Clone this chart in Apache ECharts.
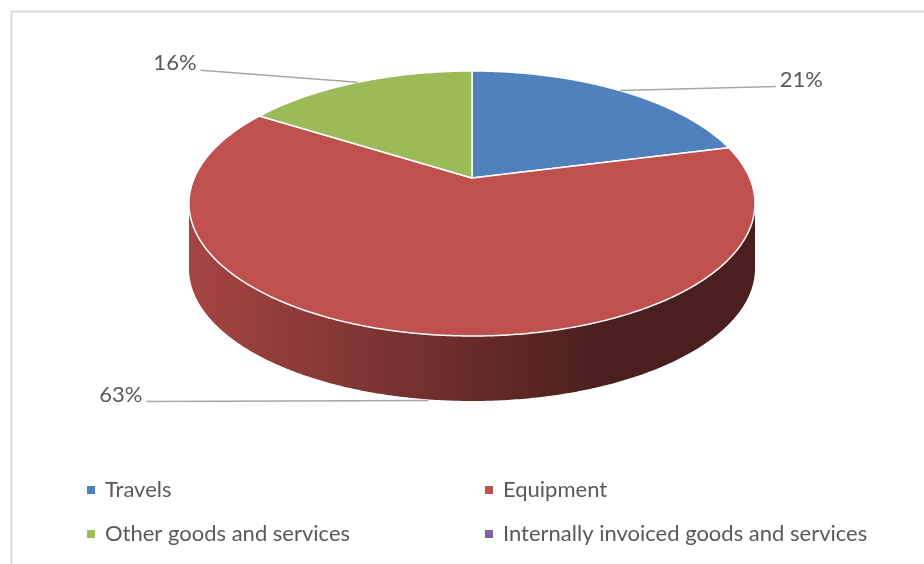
<!DOCTYPE html>
<html>
<head>
<meta charset="utf-8">
<script src="https://cdn.jsdelivr.net/npm/echarts@6/dist/echarts.min.js"></script>
<style>html,body{margin:0;padding:0;background:#fff;}#chart{width:924px;height:564px;}</style>
</head>
<body>
<div id="chart"></div>
<script>
const categories = ['Travels', 'Equipment', 'Other goods and services', 'Internally invoiced goods and services'];
const values = [21, 63, 16, 0];
const colors = ['#4F81BD', '#C0504D', '#9BBB59', '#8064A2'];

// layout (not data)
const geo = { cx: 472, cy: 178, rx: 277.7, ry: 127.6, k: 0.1924, depth: 65 };
const leaderOffsets = [[156, -4], [-282, 1], [-157, -12], [0, 0]];
const FONT = 'Lato';
const FS = 22;

const total = values.reduce((a, b) => a + b, 0);
const thetaL = Math.acos(-geo.k) * 180 / Math.PI;
const thetaR = 360 - thetaL;

function project(deg) {
  const t = deg * Math.PI / 180;
  const s = Math.sin(t), c = Math.cos(t);
  const d = 1 + geo.k * c;
  return [geo.cx + geo.rx * s / d, geo.cy - geo.ry * c / d];
}
function scale(hex, f) {
  const n = parseInt(hex.slice(1), 16);
  const r = Math.round(((n >> 16) & 255) * f), g = Math.round(((n >> 8) & 255) * f), b = Math.round((n & 255) * f);
  return 'rgb(' + r + ',' + g + ',' + b + ')';
}

function makeRender(i) {
  return function (params, api) {
    const v = api.value(0);
    const children = [];
    if (!v) return { type: 'group', children };
    let before = 0;
    for (let j = 0; j < i; j++) before += values[j];
    const start = before / total * 360;
    const end = start + v / total * 360;

    // side wall
    const a = Math.max(start, thetaL), b = Math.min(end, thetaR);
    if (b > a) {
      const top = [];
      for (let t = a; t < b; t += 0.5) top.push(project(t));
      top.push(project(b));
      const pts = top.slice();
      for (let m = top.length - 1; m >= 0; m--) pts.push([top[m][0], top[m][1] + geo.depth]);
      children.push({
        type: 'polygon', z2: 1,
        shape: { points: pts },
        style: {
          fill: new echarts.graphic.LinearGradient(190, 0, 600, 0, [
            { offset: 0, color: scale(colors[i], 0.86) },
            { offset: 1, color: scale(colors[i], 0.39) }
          ], true)
        }
      });
    }
    // top face
    const tp = [[geo.cx, geo.cy]];
    for (let t = start; t < end; t += 0.5) tp.push(project(t));
    tp.push(project(end));
    children.push({
      type: 'polygon', z2: 2,
      shape: { points: tp },
      style: { fill: colors[i], stroke: '#ffffff', lineWidth: 1.5, lineJoin: 'round' }
    });

    // label + leader
    const mid = (start + end) / 2;
    let anchor = project(mid);
    if (mid > thetaL && mid < thetaR) anchor = [anchor[0] + 10, anchor[1] + geo.depth + 2];
    const off = leaderOffsets[i];
    const endPt = [anchor[0] + off[0], anchor[1] + off[1]];
    children.push({
      type: 'polyline', z2: 3,
      shape: { points: [anchor, endPt] },
      style: { stroke: '#a6a6a6', lineWidth: 1.5, fill: null }
    });
    const right = off[0] > 0;
    children.push({
      type: 'text', z2: 4,
      style: {
        text: Math.round(v / total * 100) + '%',
        x: endPt[0] + (right ? 4 : -4),
        y: endPt[1] - 7,
        align: right ? 'left' : 'right',
        verticalAlign: 'middle',
        fill: '#595959',
        fontSize: FS,
        fontFamily: FONT
      }
    });
    return { type: 'group', children };
  };
}

const series = categories.map((name, i) => ({
  type: 'custom',
  name: name,
  coordinateSystem: 'none',
  color: colors[i],
  itemStyle: { color: colors[i] },
  renderItem: makeRender(i),
  data: [[values[i]]],
  silent: true
}));

const legendText = { color: '#595959', fontSize: FS, fontFamily: FONT, lineHeight: 22, padding: [0, 0, 0, 5] };

const chart = echarts.init(document.getElementById('chart'), null, { renderer: 'canvas' });
chart.setOption({
  animation: false,
  backgroundColor: '#ffffff',
  graphic: [{
    type: 'rect', left: 9, top: 9,
    shape: { width: 940, height: 580 },
    style: { fill: null, stroke: '#d9d9d9', lineWidth: 2 }
  }],
  legend: [
    { data: [categories[0], categories[2]], orient: 'vertical', left: 87, top: 479, padding: 0,
      itemWidth: 8, itemHeight: 8, icon: 'rect', itemGap: 22, selectedMode: false, textStyle: legendText },
    { data: [categories[1], categories[3]], orient: 'vertical', left: 485, top: 479, padding: 0,
      itemWidth: 8, itemHeight: 8, icon: 'rect', itemGap: 22, selectedMode: false, textStyle: legendText }
  ],
  series: series
});
</script>
</body>
</html>
